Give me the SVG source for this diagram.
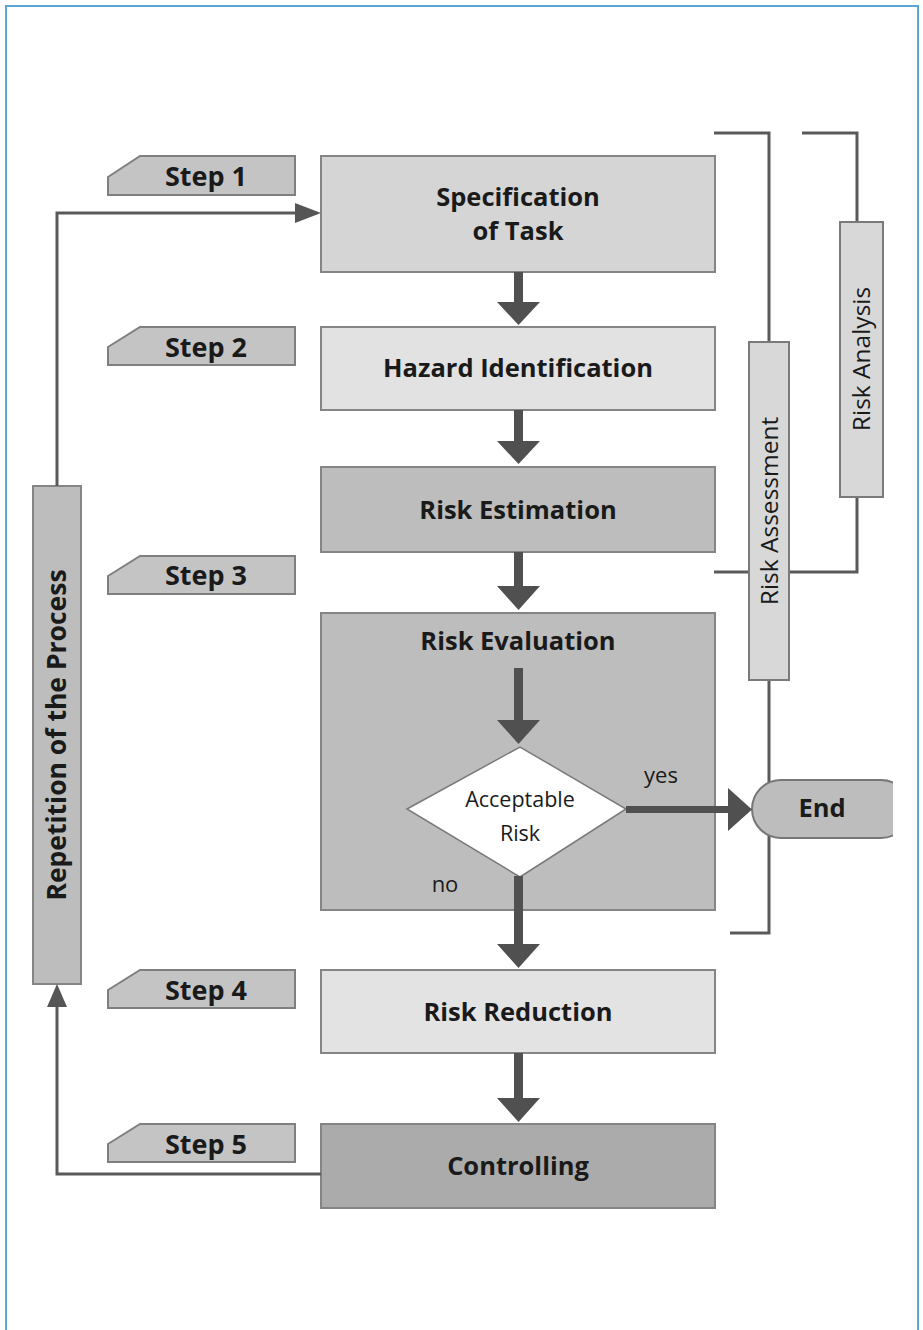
<svg xmlns="http://www.w3.org/2000/svg" width="923" height="1330" viewBox="0 0 923 1330">
<defs>
<style>
.frame{fill:none;stroke:#5aa6d2;stroke-width:2}
.tag{fill:#c4c4c4;stroke:#7f7f7f;stroke-width:2}
.tagt{font-family:"Open Sans","DejaVu Sans",sans-serif;font-weight:bold;font-size:27px;fill:#1a1a1a;text-anchor:middle}
.bt{font-family:"Open Sans","DejaVu Sans",sans-serif;font-weight:bold;font-size:25.5px;fill:#1a1a1a;text-anchor:middle}
.rt{font-family:"Open Sans","DejaVu Sans",sans-serif;font-size:22px;fill:#1a1a1a;text-anchor:middle}
.st{stroke:#858585;stroke-width:2}
.shaft{fill:#505050}
.ln{fill:none;stroke:#5a5a5a;stroke-width:3}
.side{fill:#d8d8d8;stroke:#7a7a7a;stroke-width:2}
</style>
<clipPath id="endclip"><rect x="700" y="760" width="193" height="100"/></clipPath>
</defs>
<rect x="0" y="0" width="923" height="1330" fill="#fff"/>
<path class="frame" d="M6,1330 V6 H918 V1330"/>

<g id="brackets">
<path class="ln" d="M714,133 H769 V933 H730"/>
<path class="ln" d="M802,133 H857 V572 H714"/>
</g>

<g id="step1"><path class="tag" d="M108,177 L140,156 H295 V195 H108 Z"/><text class="tagt" x="206" y="186">Step 1</text></g>
<g id="step2"><path class="tag" d="M108,347 L140,327 H295 V365 H108 Z"/><text class="tagt" x="206" y="357">Step 2</text></g>
<g id="step3"><path class="tag" d="M108,576 L140,556 H295 V594 H108 Z"/><text class="tagt" x="206" y="585">Step 3</text></g>
<g id="step4"><path class="tag" d="M108,990 L140,970 H295 V1008 H108 Z"/><text class="tagt" x="206" y="1000">Step 4</text></g>
<g id="step5"><path class="tag" d="M108,1144 L140,1124 H295 V1162 H108 Z"/><text class="tagt" x="206" y="1154">Step 5</text></g>

<g id="spec"><rect class="st" x="321" y="156" width="394" height="116" fill="#d5d5d5"/><text class="bt" x="518" y="206">Specification</text><text class="bt" x="518" y="240">of Task</text></g>
<g id="hazard"><rect class="st" x="321" y="327" width="394" height="83" fill="#e2e2e2" stroke="#a0a0a0"/><text class="bt" x="518" y="377">Hazard Identification</text></g>
<g id="estimation"><rect class="st" x="321" y="467" width="394" height="85" fill="#bdbdbd" stroke="#7a7a7a"/><text class="bt" x="518" y="519">Risk Estimation</text></g>
<g id="evaluation"><rect class="st" x="321" y="613" width="394" height="297" fill="#bdbdbd" stroke="#7a7a7a"/><text class="bt" x="518" y="650">Risk Evaluation</text></g>
<g id="decision"><path d="M407,809 L520,747 L626,809 L520,877 Z" fill="#fff" stroke="#7a7a7a" stroke-width="1.5"/><text class="rt" x="520" y="807" style="font-size:21.5px">Acceptable</text><text class="rt" x="520" y="841" style="font-size:21.5px">Risk</text></g>
<text class="rt" x="661" y="783">yes</text>
<text class="rt" x="445" y="892">no</text>
<g id="reduction"><rect class="st" x="321" y="970" width="394" height="83" fill="#e3e3e3" stroke="#a8a8a8"/><text class="bt" x="518" y="1021">Risk Reduction</text></g>
<g id="controlling"><rect class="st" x="321" y="1124" width="394" height="84" fill="#ababab" stroke="#666"/><text class="bt" x="518" y="1175">Controlling</text></g>

<g id="end"><rect x="752" y="780" width="158" height="58" rx="29" ry="29" fill="#bdbdbd" stroke="#777" stroke-width="2" clip-path="url(#endclip)"/><text class="bt" x="822" y="817">End</text></g>

<g id="assessment"><rect class="side" x="749" y="342" width="40" height="338"/><text class="rt" transform="translate(778,511) rotate(-90)" style="font-size:24.5px">Risk Assessment</text></g>
<g id="analysis"><rect class="side" x="840" y="222" width="43" height="275"/><text class="rt" transform="translate(870,359) rotate(-90)" style="font-size:24.5px">Risk Analysis</text></g>
<g id="repetition"><rect class="st" x="33" y="486" width="48" height="498" fill="#bdbdbd" stroke="#6a6a6a"/><text class="bt" transform="translate(66,735) rotate(-90)" style="font-size:26.5px">Repetition of the Process</text></g>

<g id="connectors">
<path class="ln" d="M57,486 V213 H303"/>
<path d="M295,203 L321,213 L295,223 Z" fill="#555"/>
<path class="ln" d="M321,1174 H57 V1000"/>
<path d="M47,1007 L57,984 L67,1007 Z" fill="#555"/>
<g class="shaft">
<rect x="514" y="272" width="9" height="32"/><path d="M497,302 L540,302 L518.5,325 Z"/>
<rect x="514" y="410" width="9" height="33"/><path d="M497,441 L540,441 L518.5,464 Z"/>
<rect x="514" y="552" width="9" height="36"/><path d="M497,586 L540,586 L518.5,610 Z"/>
<rect x="514" y="668" width="9" height="54"/><path d="M497,720 L540,720 L518.5,744 Z"/>
<rect x="514" y="876" width="9" height="70"/><path d="M497,944 L540,944 L518.5,968 Z"/>
<rect x="514" y="1053" width="9" height="47"/><path d="M497,1098 L540,1098 L518.5,1122 Z"/>
<rect x="626" y="806" width="104" height="7"/><path d="M728,788 L752,809.5 L728,831 Z"/>
</g>
</g>
</svg>
